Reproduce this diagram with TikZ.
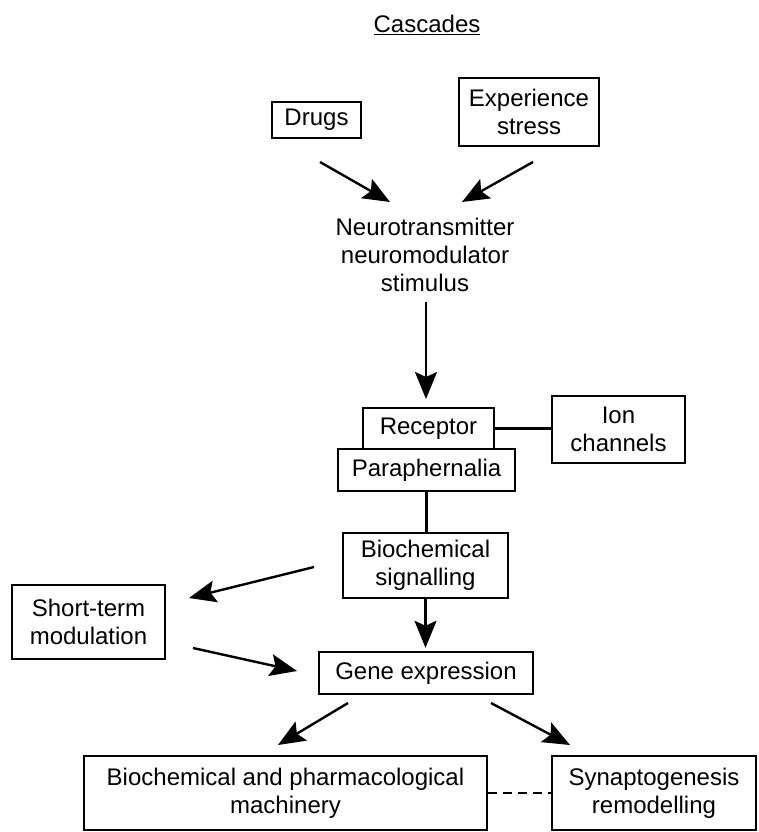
\documentclass[tikz,border=0pt]{standalone}
\usepackage{fontspec}
\setmainfont{Liberation Sans}
\usetikzlibrary{arrows.meta,calc}
\begin{document}
\begin{tikzpicture}[x=1pt,y=-1pt,
  every node/.style={font=\fontsize{24}{28}\selectfont},
  box/.style={draw, line width=2.4pt, align=center, inner sep=0pt, anchor=center},
  arr/.style={line width=2.4pt, -{Stealth[length=27pt,width=22pt,inset=5pt]}},
  link/.style={line width=2.4pt},
]
\useasboundingbox (0,0) rectangle (759,832);
\fill[white] (0,0) rectangle (759,832);

% title
\node[inner sep=0pt] (casc) at (427,25) {\underline{Cascades}};

% boxes
\node[box, minimum width=89pt, minimum height=36pt] (drugs) at (316.5,120) {Drugs};
\node[box, minimum width=140pt, minimum height=68pt] (exp) at (529,112) {Experience\\stress};
\node[align=center, inner sep=0pt] (neuro) at (425,255) {Neurotransmitter\\neuromodulator\\stimulus};
\node[box, minimum width=131pt, minimum height=41pt] (rec) at (428.5,428.5) {Receptor};
\node[box, minimum width=177pt, minimum height=42pt] (para) at (426.5,470) {Paraphernalia};
\node[box, minimum width=133pt, minimum height=67pt] (ion) at (618.5,429.5) {Ion\\channels};
\node[box, minimum width=165pt, minimum height=65pt] (bio) at (425.5,565.5) {Biochemical\\signalling};
\node[box, minimum width=153pt, minimum height=74pt] (short) at (88.5,622) {Short-term\\modulation};
\node[box, minimum width=214pt, minimum height=42pt] (gene) at (426,673) {Gene expression};
\node[box, minimum width=403pt, minimum height=74pt] (mach) at (285.5,793) {Biochemical and pharmacological\\machinery};
\node[box, minimum width=204pt, minimum height=74pt] (syn) at (654,793) {Synaptogenesis\\remodelling};

% free arrow ends
\coordinate (dOut) at (320,162);
\coordinate (dIn) at (390,202);
\coordinate (eOut) at (533,162);
\coordinate (eIn) at (462,202);
\coordinate (nOut) at (426,302);
\coordinate (nIn) at (426,399);
\coordinate (bOut) at (314,567);
\coordinate (sIn) at (189,598);
\coordinate (sOut) at (193,648);
\coordinate (gIn) at (297,671);
\coordinate (gOutL) at (348,703);
\coordinate (mIn) at (278,745);
\coordinate (gOutR) at (491,703);
\coordinate (synIn) at (570,745);

% connectors
\draw[arr] (dOut) -- (dIn);
\draw[arr] (eOut) -- (eIn);
\draw[arr] (nOut) -- (nIn);
\draw[link] (rec.east) -- (rec.east -| ion.west);
\draw[link] (para.south) -- (para.south |- bio.north);
\draw[arr] (bOut) -- (sIn);
\draw[arr, shorten >=3pt] (bio.south) -- (bio.south |- gene.north);
\draw[arr] (sOut) -- (gIn);
\draw[arr] (gOutL) -- (mIn);
\draw[arr] (gOutR) -- (synIn);
\draw[link, dashed, dash pattern=on 9pt off 6pt] (mach.east) -- (syn.west);
\end{tikzpicture}
\end{document}
